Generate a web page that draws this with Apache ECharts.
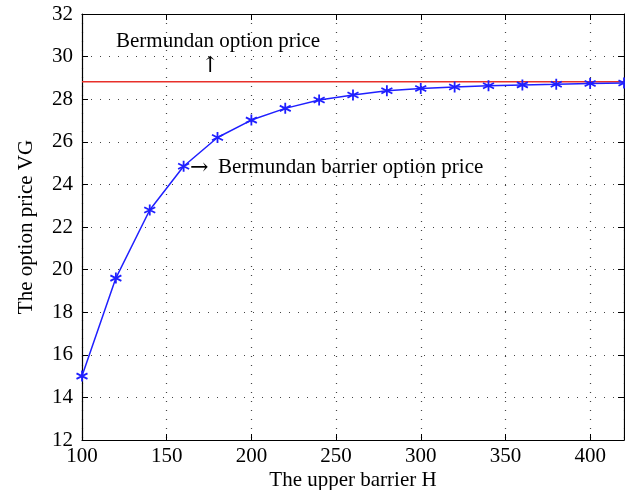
<!DOCTYPE html>
<html><head><meta charset="utf-8">
<script src="https://cdn.jsdelivr.net/npm/echarts@6/dist/echarts.min.js"></script>
<style>html,body{margin:0;padding:0;background:#fff}#c{width:625px;height:490px}</style>
</head><body><div id="c"></div>
<script>
const barrierH = [100,120,140,160,180,200,220,240,260,280,300,320,340,360,380,400,420];
const barrierPrice = [15.0,19.6,22.8,24.85,26.2,27.02,27.57,27.96,28.2,28.4,28.5,28.57,28.63,28.67,28.7,28.74,28.76];
const bermudanPrice = 28.82;
const bermudanX = [100,420];
const xTicks = [100,150,200,250,300,350,400];
const yTicks = [12,14,16,18,20,22,24,26,28,30,32];

const F = 'Liberation Serif, Times New Roman, serif';
const star = 'path://M0,-10 L0,10 M-8.66,-5 L8.66,5 M-8.66,5 L8.66,-5';
const chart = echarts.init(document.getElementById('c'));
const gridLine = {show:true, lineStyle:{color:'#444', type:[1,8], width:1.2}};
chart.setOption({
  animation:false,
  grid:{left:82, right:1, top:14, bottom:50, outerBoundsMode:'none', containLabel:false},
  xAxis:[{type:'value', min:100, max:420, interval:50,
    axisLine:{show:true, onZero:false, lineStyle:{color:'#000', width:1.2}},
    axisTick:{show:true, inside:true, length:6, lineStyle:{color:'#000'}},
    axisLabel:{fontFamily:F, fontSize:21, color:'#000', margin:6, showMaxLabel:false},
    splitLine:gridLine,
    name:'The upper barrier H', nameLocation:'middle', nameGap:30, nameMoveOverlap:false,
    nameTextStyle:{fontFamily:F, fontSize:21, color:'#000'}},
   {type:'value', position:'top', min:100, max:420, interval:50,
    axisLine:{show:true, onZero:false, lineStyle:{color:'#000', width:1.2}},
    axisTick:{show:true, inside:true, length:6, lineStyle:{color:'#000'}},
    axisLabel:{show:false}, splitLine:{show:false}}],
  yAxis:[{type:'value', min:12, max:32, interval:2,
    axisLine:{show:true, onZero:false, lineStyle:{color:'#000', width:1.2}},
    axisTick:{show:true, inside:true, length:6, lineStyle:{color:'#000'}},
    axisLabel:{fontFamily:F, fontSize:21, color:'#000', margin:9},
    splitLine:gridLine,
    name:'The option price VG', nameLocation:'middle', nameGap:45, nameMoveOverlap:false,
    nameTextStyle:{fontFamily:F, fontSize:21, color:'#000'}},
   {type:'value', position:'right', min:12, max:32, interval:2,
    axisLine:{show:true, onZero:false, lineStyle:{color:'#000', width:1.2}},
    axisTick:{show:true, inside:true, length:6, lineStyle:{color:'#000'}},
    axisLabel:{show:false}, splitLine:{show:false}}],
  series:[
    {type:'line', data:bermudanX.map(x=>[x,bermudanPrice]), symbol:'none',
     lineStyle:{color:'#e8302a', width:1.6}, z:2},
    {type:'line', data:barrierH.map((x,i)=>[x,barrierPrice[i]]),
     symbol:star, symbolSize:11,
     itemStyle:{color:'#1f1fff', borderColor:'#1f1fff', borderWidth:1.8},
     lineStyle:{color:'#1f1fff', width:1.5}, z:3}
  ],
  graphic:[
    {type:'text', left:116, top:31, style:{text:'Bermundan option price', font:'21px '+F, fill:'#000'}},
    {type:'text', left:201, top:55, style:{text:'↑', font:'22px DejaVu Serif', fill:'#000'}},
    {type:'text', left:190, top:157, style:{text:'→', font:'22px DejaVu Serif', fill:'#000'}},
    {type:'text', left:218, top:157, style:{text:'Bermundan barrier option price', font:'21px '+F, fill:'#000'}}
  ]
});
</script></body></html>
